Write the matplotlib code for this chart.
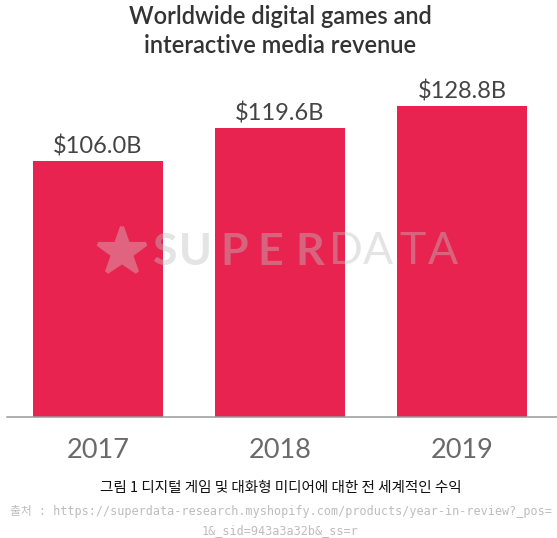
import matplotlib
matplotlib.use("Agg")
import matplotlib.pyplot as plt

# data
years = ["2017", "2018", "2019"]
revenue = [106.0, 119.6, 128.8]  # USD billions

title = "Worldwide digital games and\ninteractive media revenue"
caption = "그림 1 디지털 게임 및 대화형 미디어에 대한 전 세계적인 수익"
source1 = "출처 : https://superdata-research.myshopify.com/products/year-in-review?_pos="
source2 = "1&_sid=943a3a32b&_ss=r"

bar_color = "#e9234f"
W, H = 557, 538

fig = plt.figure(figsize=(W / 100, H / 100), dpi=100)
ax = fig.add_axes([6.7 / W, (H - 417) / H, 550.3 / W, 337 / H])

x = range(len(years))
ax.bar(x, revenue, width=0.711, color=bar_color, zorder=2)
ax.set_xlim(-0.5, 2.52)
ax.set_ylim(0, 139.66)

for i, v in enumerate(revenue):
    ax.annotate(f"\\${v:.1f}B", (i, v), xytext=(0, 5.4), textcoords="offset points",
                ha="center", va="baseline", fontsize=17, family="Lato", color="#444444")

ax.set_xticks(list(x), labels=years)
ax.tick_params(axis="x", length=0, pad=15, labelsize=19.5, labelcolor="#6a6a6a")
for t in ax.get_xticklabels():
    t.set_family("Lato")
    t.set_fontweight("normal")
ax.set_yticks([])
for s in ["top", "left", "right"]:
    ax.spines[s].set_visible(False)
ax.spines["bottom"].set_color("#999999")
ax.spines["bottom"].set_linewidth(1.1)
ax.spines["bottom"].set_zorder(3)

# watermark
ax.plot([0.2088], [0.491], marker="*", markersize=36, color="#e0637f",
        markeredgewidth=3, markeredgecolor="#e0637f", transform=ax.transAxes, zorder=3)
wm_letters = ["S", "U", "P", "E", "R", "D", "A", "T", "A"]
wm_x = [165, 195, 234, 270, 310, 346, 377.5, 413, 442.5]
for k, (ch, px) in enumerate(zip(wm_letters, wm_x)):
    ax.text((px - 6.7) / 550.3, (417 - 252) / 337, ch, transform=ax.transAxes,
            ha="center", va="center", fontsize=32, family="Lato",
            fontweight="bold" if k < 5 else "normal",
            color="#c0c0c0", alpha=0.42, zorder=3)

fig.text(280 / W, 1 - 5 / H, title, ha="center", va="top", fontsize=17,
         family="Lato", fontweight="semibold", color="#333333", linespacing=1.3)

fig.text(280.5 / W, 1 - 487.8 / H, caption, ha="center", va="center", fontsize=10.5,
         family=["Noto Sans CJK KR", "DejaVu Sans"], color="#111111")
fig.text(280.5 / W, 1 - 511.5 / H, source1, ha="center", va="center", fontsize=8.5,
         family=["DejaVu Sans Mono", "Noto Sans CJK KR"], color="#bdbdbd")
fig.text(280 / W, 1 - 530.5 / H, source2, ha="center", va="center", fontsize=8.5,
         family=["DejaVu Sans Mono", "Noto Sans CJK KR"], color="#bdbdbd")

fig.savefig("out.png", dpi=100)
